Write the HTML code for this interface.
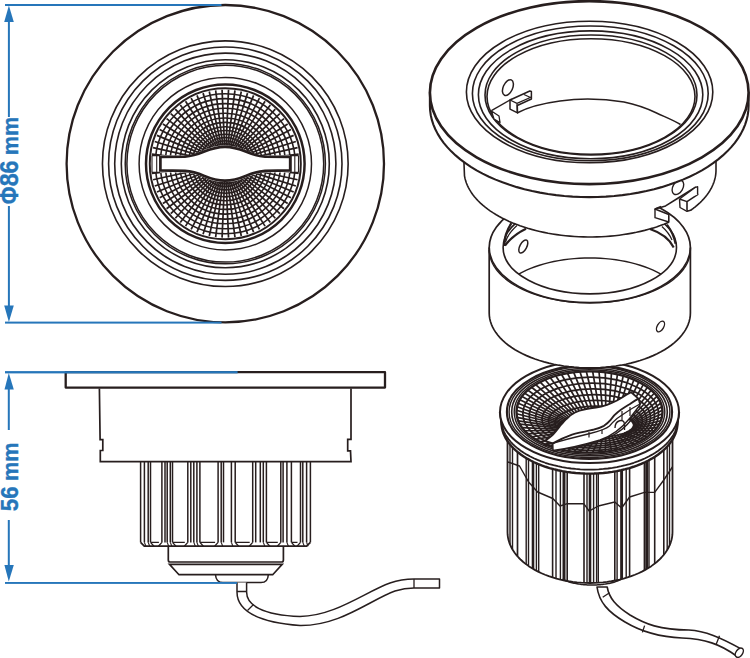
<!DOCTYPE html>
<html><head><meta charset="utf-8"><style>html,body{margin:0;padding:0;background:#fff;overflow:hidden;}svg{display:block}</style></head>
<body><svg width="750" height="658" viewBox="0 0 750 658">
<circle cx="225.3" cy="163.7" r="158.7" fill="none" stroke="#271e1e" stroke-width="2.3"/>
<circle cx="225.3" cy="163.7" r="122.85" fill="none" stroke="#271e1e" stroke-width="1.6"/>
<circle cx="225.3" cy="163.7" r="116.7" fill="none" stroke="#271e1e" stroke-width="1.6"/>
<circle cx="225.3" cy="163.7" r="110.6" fill="none" stroke="#271e1e" stroke-width="1.6"/>
<circle cx="225.3" cy="163.7" r="104.0" fill="none" stroke="#271e1e" stroke-width="1.6"/>
<circle cx="225.3" cy="163.7" r="100.1" fill="none" stroke="#271e1e" stroke-width="1.5"/>
<circle cx="225.3" cy="163.7" r="98.4" fill="none" stroke="#271e1e" stroke-width="1.5"/>
<circle cx="225.3" cy="163.7" r="86.2" fill="none" stroke="#271e1e" stroke-width="1.5"/>
<circle cx="225.3" cy="163.7" r="79.3" fill="none" stroke="#271e1e" stroke-width="2.5"/>
<defs><mask id="gm"><rect x="0" y="0" width="750" height="658" fill="black"/><circle cx="225.3" cy="163.7" r="75.5" fill="white"/><path d="M150 155.5 L185 155.5 C203 154 207 145.5 225 145.5 C243 145.5 247 154 265 155.5 L300 155.5 L300 172.5 L265 172.5 C247 174 243 182 225 182 C207 182 203 174 185 172.5 L150 172.5 Z" fill="black"/></mask></defs>
<g mask="url(#gm)"><circle cx="225.3" cy="163.7" r="70" fill="none" stroke="#271e1e" stroke-width="1.6"/><circle cx="225.3" cy="163.7" r="65.1" fill="none" stroke="#271e1e" stroke-width="1.6"/><circle cx="225.3" cy="163.7" r="60.1" fill="none" stroke="#271e1e" stroke-width="1.6"/><circle cx="225.3" cy="163.7" r="55.4" fill="none" stroke="#271e1e" stroke-width="1.6"/><circle cx="225.3" cy="163.7" r="50.4" fill="none" stroke="#271e1e" stroke-width="1.6"/><circle cx="225.3" cy="163.7" r="45.7" fill="none" stroke="#271e1e" stroke-width="1.6"/><circle cx="225.3" cy="163.7" r="41.3" fill="none" stroke="#271e1e" stroke-width="1.6"/><circle cx="225.3" cy="163.7" r="37" fill="none" stroke="#271e1e" stroke-width="1.6"/><circle cx="225.3" cy="163.7" r="33.2" fill="none" stroke="#271e1e" stroke-width="1.6"/><circle cx="225.3" cy="163.7" r="29.5" fill="none" stroke="#271e1e" stroke-width="1.6"/><circle cx="225.3" cy="163.7" r="26.2" fill="none" stroke="#271e1e" stroke-width="1.6"/><circle cx="225.3" cy="163.7" r="22.9" fill="none" stroke="#271e1e" stroke-width="1.6"/><circle cx="225.3" cy="163.7" r="20.0" fill="none" stroke="#271e1e" stroke-width="1.6"/><circle cx="225.3" cy="163.7" r="17.3" fill="none" stroke="#271e1e" stroke-width="1.6"/><line x1="237.29" y1="164.22" x2="299.23" y2="166.93" stroke="#271e1e" stroke-width="1.7"/><line x1="237.20" y1="165.27" x2="298.67" y2="173.36" stroke="#271e1e" stroke-width="1.7"/><line x1="237.02" y1="166.30" x2="297.55" y2="179.72" stroke="#271e1e" stroke-width="1.7"/><line x1="236.74" y1="167.31" x2="295.88" y2="185.95" stroke="#271e1e" stroke-width="1.7"/><line x1="236.39" y1="168.29" x2="293.67" y2="192.02" stroke="#271e1e" stroke-width="1.7"/><line x1="235.94" y1="169.24" x2="290.94" y2="197.87" stroke="#271e1e" stroke-width="1.7"/><line x1="235.42" y1="170.15" x2="287.71" y2="203.46" stroke="#271e1e" stroke-width="1.7"/><line x1="234.82" y1="171.01" x2="284.01" y2="208.75" stroke="#271e1e" stroke-width="1.7"/><line x1="234.15" y1="171.81" x2="279.86" y2="213.69" stroke="#271e1e" stroke-width="1.7"/><line x1="233.41" y1="172.55" x2="275.29" y2="218.26" stroke="#271e1e" stroke-width="1.7"/><line x1="232.61" y1="173.22" x2="270.35" y2="222.41" stroke="#271e1e" stroke-width="1.7"/><line x1="231.75" y1="173.82" x2="265.06" y2="226.11" stroke="#271e1e" stroke-width="1.7"/><line x1="230.84" y1="174.34" x2="259.47" y2="229.34" stroke="#271e1e" stroke-width="1.7"/><line x1="229.89" y1="174.79" x2="253.62" y2="232.07" stroke="#271e1e" stroke-width="1.7"/><line x1="228.91" y1="175.14" x2="247.55" y2="234.28" stroke="#271e1e" stroke-width="1.7"/><line x1="227.90" y1="175.42" x2="241.32" y2="235.95" stroke="#271e1e" stroke-width="1.7"/><line x1="226.87" y1="175.60" x2="234.96" y2="237.07" stroke="#271e1e" stroke-width="1.7"/><line x1="225.82" y1="175.69" x2="228.53" y2="237.63" stroke="#271e1e" stroke-width="1.7"/><line x1="224.78" y1="175.69" x2="222.07" y2="237.63" stroke="#271e1e" stroke-width="1.7"/><line x1="223.73" y1="175.60" x2="215.64" y2="237.07" stroke="#271e1e" stroke-width="1.7"/><line x1="222.70" y1="175.42" x2="209.28" y2="235.95" stroke="#271e1e" stroke-width="1.7"/><line x1="221.69" y1="175.14" x2="203.05" y2="234.28" stroke="#271e1e" stroke-width="1.7"/><line x1="220.71" y1="174.79" x2="196.98" y2="232.07" stroke="#271e1e" stroke-width="1.7"/><line x1="219.76" y1="174.34" x2="191.13" y2="229.34" stroke="#271e1e" stroke-width="1.7"/><line x1="218.85" y1="173.82" x2="185.54" y2="226.11" stroke="#271e1e" stroke-width="1.7"/><line x1="217.99" y1="173.22" x2="180.25" y2="222.41" stroke="#271e1e" stroke-width="1.7"/><line x1="217.19" y1="172.55" x2="175.31" y2="218.26" stroke="#271e1e" stroke-width="1.7"/><line x1="216.45" y1="171.81" x2="170.74" y2="213.69" stroke="#271e1e" stroke-width="1.7"/><line x1="215.78" y1="171.01" x2="166.59" y2="208.75" stroke="#271e1e" stroke-width="1.7"/><line x1="215.18" y1="170.15" x2="162.89" y2="203.46" stroke="#271e1e" stroke-width="1.7"/><line x1="214.66" y1="169.24" x2="159.66" y2="197.87" stroke="#271e1e" stroke-width="1.7"/><line x1="214.21" y1="168.29" x2="156.93" y2="192.02" stroke="#271e1e" stroke-width="1.7"/><line x1="213.86" y1="167.31" x2="154.72" y2="185.95" stroke="#271e1e" stroke-width="1.7"/><line x1="213.58" y1="166.30" x2="153.05" y2="179.72" stroke="#271e1e" stroke-width="1.7"/><line x1="213.40" y1="165.27" x2="151.93" y2="173.36" stroke="#271e1e" stroke-width="1.7"/><line x1="213.31" y1="164.22" x2="151.37" y2="166.93" stroke="#271e1e" stroke-width="1.7"/><line x1="213.31" y1="163.18" x2="151.37" y2="160.47" stroke="#271e1e" stroke-width="1.7"/><line x1="213.40" y1="162.13" x2="151.93" y2="154.04" stroke="#271e1e" stroke-width="1.7"/><line x1="213.58" y1="161.10" x2="153.05" y2="147.68" stroke="#271e1e" stroke-width="1.7"/><line x1="213.86" y1="160.09" x2="154.72" y2="141.45" stroke="#271e1e" stroke-width="1.7"/><line x1="214.21" y1="159.11" x2="156.93" y2="135.38" stroke="#271e1e" stroke-width="1.7"/><line x1="214.66" y1="158.16" x2="159.66" y2="129.53" stroke="#271e1e" stroke-width="1.7"/><line x1="215.18" y1="157.25" x2="162.89" y2="123.94" stroke="#271e1e" stroke-width="1.7"/><line x1="215.78" y1="156.39" x2="166.59" y2="118.65" stroke="#271e1e" stroke-width="1.7"/><line x1="216.45" y1="155.59" x2="170.74" y2="113.71" stroke="#271e1e" stroke-width="1.7"/><line x1="217.19" y1="154.85" x2="175.31" y2="109.14" stroke="#271e1e" stroke-width="1.7"/><line x1="217.99" y1="154.18" x2="180.25" y2="104.99" stroke="#271e1e" stroke-width="1.7"/><line x1="218.85" y1="153.58" x2="185.54" y2="101.29" stroke="#271e1e" stroke-width="1.7"/><line x1="219.76" y1="153.06" x2="191.13" y2="98.06" stroke="#271e1e" stroke-width="1.7"/><line x1="220.71" y1="152.61" x2="196.98" y2="95.33" stroke="#271e1e" stroke-width="1.7"/><line x1="221.69" y1="152.26" x2="203.05" y2="93.12" stroke="#271e1e" stroke-width="1.7"/><line x1="222.70" y1="151.98" x2="209.28" y2="91.45" stroke="#271e1e" stroke-width="1.7"/><line x1="223.73" y1="151.80" x2="215.64" y2="90.33" stroke="#271e1e" stroke-width="1.7"/><line x1="224.78" y1="151.71" x2="222.07" y2="89.77" stroke="#271e1e" stroke-width="1.7"/><line x1="225.82" y1="151.71" x2="228.53" y2="89.77" stroke="#271e1e" stroke-width="1.7"/><line x1="226.87" y1="151.80" x2="234.96" y2="90.33" stroke="#271e1e" stroke-width="1.7"/><line x1="227.90" y1="151.98" x2="241.32" y2="91.45" stroke="#271e1e" stroke-width="1.7"/><line x1="228.91" y1="152.26" x2="247.55" y2="93.12" stroke="#271e1e" stroke-width="1.7"/><line x1="229.89" y1="152.61" x2="253.62" y2="95.33" stroke="#271e1e" stroke-width="1.7"/><line x1="230.84" y1="153.06" x2="259.47" y2="98.06" stroke="#271e1e" stroke-width="1.7"/><line x1="231.75" y1="153.58" x2="265.06" y2="101.29" stroke="#271e1e" stroke-width="1.7"/><line x1="232.61" y1="154.18" x2="270.35" y2="104.99" stroke="#271e1e" stroke-width="1.7"/><line x1="233.41" y1="154.85" x2="275.29" y2="109.14" stroke="#271e1e" stroke-width="1.7"/><line x1="234.15" y1="155.59" x2="279.86" y2="113.71" stroke="#271e1e" stroke-width="1.7"/><line x1="234.82" y1="156.39" x2="284.01" y2="118.65" stroke="#271e1e" stroke-width="1.7"/><line x1="235.42" y1="157.25" x2="287.71" y2="123.94" stroke="#271e1e" stroke-width="1.7"/><line x1="235.94" y1="158.16" x2="290.94" y2="129.53" stroke="#271e1e" stroke-width="1.7"/><line x1="236.39" y1="159.11" x2="293.67" y2="135.38" stroke="#271e1e" stroke-width="1.7"/><line x1="236.74" y1="160.09" x2="295.88" y2="141.45" stroke="#271e1e" stroke-width="1.7"/><line x1="237.02" y1="161.10" x2="297.55" y2="147.68" stroke="#271e1e" stroke-width="1.7"/><line x1="237.20" y1="162.13" x2="298.67" y2="154.04" stroke="#271e1e" stroke-width="1.7"/><line x1="237.29" y1="163.18" x2="299.23" y2="160.47" stroke="#271e1e" stroke-width="1.7"/></g>
<circle cx="225.3" cy="163.7" r="75.5" fill="none" stroke="#271e1e" stroke-width="2"/>
<path d="M160.4 157 L185 156.6 C203 155.5 207 146.8 225 146.8 C243 146.8 247 155.5 265 156.6 L290.2 157 L290.2 170.4 L265 170.9 C247 172 243 180.6 225 180.6 C207 180.6 203 172 185 170.9 L160.4 170.4 Z" fill="white" stroke="#271e1e" stroke-width="2.7"/>
<path d="M152 155.5 L160 155.5 M152 172.5 L160 172.5 M290 155.5 L298.5 155.5 M290 172.5 L298.5 172.5" stroke="#271e1e" stroke-width="1.6"/>
<line x1="152.0" y1="155.5" x2="152.0" y2="172.5" stroke="#271e1e" stroke-width="1.1"/>
<line x1="156.7" y1="155.5" x2="156.7" y2="172.5" stroke="#271e1e" stroke-width="1.1"/>
<line x1="291.0" y1="155.5" x2="291.0" y2="172.5" stroke="#271e1e" stroke-width="1.1"/>
<line x1="294.8" y1="155.5" x2="294.8" y2="172.5" stroke="#271e1e" stroke-width="1.1"/>
<line x1="298.5" y1="155.5" x2="298.5" y2="172.5" stroke="#271e1e" stroke-width="1.1"/>
<rect x="65.7" y="372.2" width="319.3" height="15.4" fill="none" stroke="#271e1e" stroke-width="2.3" stroke-linejoin="round"/>
<path d="M99.4 388.5 L100.1 439.6 L102.8 439.6 L102.8 450.5 L100.3 450.5 L100.3 461.6 L351 461.6 L350.5 450.8 L347.7 450.8 L347.7 439.4 L351 439.4 L351 388.5" fill="none" stroke="#271e1e" stroke-width="1.7"/>
<line x1="140.6" y1="461.6" x2="140.6" y2="542.4" stroke="#271e1e" stroke-width="1.5"/>
<line x1="144.4" y1="461.6" x2="144.4" y2="542.4" stroke="#271e1e" stroke-width="1.5"/>
<line x1="148.2" y1="461.6" x2="148.2" y2="542.4" stroke="#271e1e" stroke-width="1.5"/>
<line x1="150.5" y1="461.6" x2="150.5" y2="542.4" stroke="#271e1e" stroke-width="1.5"/>
<line x1="161.9" y1="461.6" x2="161.9" y2="542.4" stroke="#271e1e" stroke-width="1.5"/>
<line x1="165" y1="461.6" x2="165" y2="542.4" stroke="#271e1e" stroke-width="1.5"/>
<line x1="167.2" y1="461.6" x2="167.2" y2="542.4" stroke="#271e1e" stroke-width="1.5"/>
<line x1="170.3" y1="461.6" x2="170.3" y2="542.4" stroke="#271e1e" stroke-width="1.5"/>
<line x1="172.5" y1="461.6" x2="172.5" y2="542.4" stroke="#271e1e" stroke-width="1.5"/>
<line x1="187.8" y1="461.6" x2="187.8" y2="542.4" stroke="#271e1e" stroke-width="1.5"/>
<line x1="190.8" y1="461.6" x2="190.8" y2="542.4" stroke="#271e1e" stroke-width="1.5"/>
<line x1="193.8" y1="461.6" x2="193.8" y2="542.4" stroke="#271e1e" stroke-width="1.5"/>
<line x1="196.9" y1="461.6" x2="196.9" y2="542.4" stroke="#271e1e" stroke-width="1.5"/>
<line x1="199.9" y1="461.6" x2="199.9" y2="542.4" stroke="#271e1e" stroke-width="1.5"/>
<line x1="218.1" y1="461.6" x2="218.1" y2="542.4" stroke="#271e1e" stroke-width="1.5"/>
<line x1="221.2" y1="461.6" x2="221.2" y2="542.4" stroke="#271e1e" stroke-width="1.5"/>
<line x1="223.5" y1="461.6" x2="223.5" y2="542.4" stroke="#271e1e" stroke-width="1.5"/>
<line x1="231.4" y1="461.6" x2="231.4" y2="542.4" stroke="#271e1e" stroke-width="1.5"/>
<line x1="235.2" y1="461.6" x2="235.2" y2="542.4" stroke="#271e1e" stroke-width="1.5"/>
<line x1="252.7" y1="461.6" x2="252.7" y2="542.4" stroke="#271e1e" stroke-width="1.5"/>
<line x1="255.7" y1="461.6" x2="255.7" y2="542.4" stroke="#271e1e" stroke-width="1.5"/>
<line x1="260.3" y1="461.6" x2="260.3" y2="542.4" stroke="#271e1e" stroke-width="1.5"/>
<line x1="263.3" y1="461.6" x2="263.3" y2="542.4" stroke="#271e1e" stroke-width="1.5"/>
<line x1="266.4" y1="461.6" x2="266.4" y2="542.4" stroke="#271e1e" stroke-width="1.5"/>
<line x1="280.8" y1="461.6" x2="280.8" y2="542.4" stroke="#271e1e" stroke-width="1.5"/>
<line x1="283.1" y1="461.6" x2="283.1" y2="542.4" stroke="#271e1e" stroke-width="1.5"/>
<line x1="286.9" y1="461.6" x2="286.9" y2="542.4" stroke="#271e1e" stroke-width="1.5"/>
<line x1="291.4" y1="461.6" x2="291.4" y2="542.4" stroke="#271e1e" stroke-width="1.5"/>
<line x1="300.5" y1="461.6" x2="300.5" y2="542.4" stroke="#271e1e" stroke-width="1.5"/>
<line x1="302.8" y1="461.6" x2="302.8" y2="542.4" stroke="#271e1e" stroke-width="1.5"/>
<line x1="306.6" y1="461.6" x2="306.6" y2="542.4" stroke="#271e1e" stroke-width="1.5"/>
<line x1="310.4" y1="461.6" x2="310.4" y2="542.4" stroke="#271e1e" stroke-width="1.5"/>
<path d="M140.6 542.4 L144.3 546.2 L306.6 546.2 L310.4 542.4" fill="none" stroke="#271e1e" stroke-width="1.7"/>
<path d="M150.5 542.4 L153.5 542.4 M150.5 542.4 L154.0 546.2 M161.9 542.4 L158.4 546.2 M153.5 542.4 L158.9 542.4" fill="none" stroke="#271e1e" stroke-width="1.3"/>
<path d="M172.5 542.4 L175.5 542.4 M172.5 542.4 L176.0 546.2 M187.8 542.4 L184.3 546.2 M175.5 542.4 L184.8 542.4" fill="none" stroke="#271e1e" stroke-width="1.3"/>
<path d="M199.9 542.4 L202.9 542.4 M199.9 542.4 L203.4 546.2 M218.1 542.4 L214.6 546.2 M202.9 542.4 L215.1 542.4" fill="none" stroke="#271e1e" stroke-width="1.3"/>
<path d="M235.2 542.4 L238.2 542.4 M235.2 542.4 L238.7 546.2 M252.7 542.4 L249.2 546.2 M238.2 542.4 L249.7 542.4" fill="none" stroke="#271e1e" stroke-width="1.3"/>
<path d="M266.4 542.4 L269.4 542.4 M266.4 542.4 L269.9 546.2 M280.8 542.4 L277.3 546.2 M269.4 542.4 L277.8 542.4" fill="none" stroke="#271e1e" stroke-width="1.3"/>
<path d="M291.4 542.4 L294.4 542.4 M291.4 542.4 L294.9 546.2 M300.5 542.4 L297.0 546.2 M294.4 542.4 L297.5 542.4" fill="none" stroke="#271e1e" stroke-width="1.3"/>
<line x1="144.4" y1="542.4" x2="145.9" y2="546.2" stroke="#271e1e" stroke-width="1.1"/>
<line x1="148.2" y1="542.4" x2="149.7" y2="546.2" stroke="#271e1e" stroke-width="1.1"/>
<line x1="167.2" y1="542.4" x2="168.7" y2="546.2" stroke="#271e1e" stroke-width="1.1"/>
<line x1="170.3" y1="542.4" x2="171.8" y2="546.2" stroke="#271e1e" stroke-width="1.1"/>
<line x1="193.8" y1="542.4" x2="195.3" y2="546.2" stroke="#271e1e" stroke-width="1.1"/>
<line x1="196.9" y1="542.4" x2="198.4" y2="546.2" stroke="#271e1e" stroke-width="1.1"/>
<line x1="221.2" y1="542.4" x2="222.7" y2="546.2" stroke="#271e1e" stroke-width="1.1"/>
<line x1="231.4" y1="542.4" x2="232.9" y2="546.2" stroke="#271e1e" stroke-width="1.1"/>
<line x1="263.3" y1="542.4" x2="264.8" y2="546.2" stroke="#271e1e" stroke-width="1.1"/>
<line x1="286.9" y1="542.4" x2="288.4" y2="546.2" stroke="#271e1e" stroke-width="1.1"/>
<line x1="302.8" y1="542.4" x2="304.3" y2="546.2" stroke="#271e1e" stroke-width="1.1"/>
<line x1="306.6" y1="542.4" x2="308.1" y2="546.2" stroke="#271e1e" stroke-width="1.1"/>
<path d="M168.3 546.2 L168.3 560 Q168.3 562 170 562 L281.7 562 Q283.4 562 283.4 560 L283.4 546.2" fill="none" stroke="#271e1e" stroke-width="1.7"/>
<path d="M169.5 564.3 L282.2 564.3 L272.7 574.7 L179 574.7 Z" fill="none" stroke="#271e1e" stroke-width="1.7"/>
<path d="M215.5 574.7 Q216 582.5 223 582.5 L261 582.5 Q268 582.5 268.3 574.7" fill="none" stroke="#271e1e" stroke-width="1.5"/>
<path d="M237 582.6 L237 592 C237 610 255 622 300 625.5 C340 626 370 600 395 591 C403 588.5 408 588 414 588 L439.5 588 L439.5 579 L414 579 C407 579 400 579.5 390 583 C365 592 335 616 300 616.5 C262 615 246.6 605 246.6 592 L246.6 582.6" fill="white" stroke="#271e1e" stroke-width="1.5" stroke-linejoin="round"/>
<path d="M237 591.5 L246.6 591.5 M247.5 610.5 L253.5 604.5 M414 579 L414 588" stroke="#271e1e" stroke-width="1.3"/>
<path d="M597 587 C599 602 608 612 625 622 C640 631 660 637 682 638 C705 639 720 644 736.5 656 L742 649.4 C720 637 705 631 688.8 630 C660 630 645 624 630 615 C616 606 609 598 607.2 587 Z" fill="white" stroke="#271e1e" stroke-width="1.6" stroke-linejoin="round" />
<path d="M602.7 597.2 L609.5 592.7 M644.6 625.6 L642.4 632.4 M719.5 635.8 L716 644.8" fill="none" stroke="#271e1e" stroke-width="1.3" stroke-linejoin="round" />
<ellipse cx="739.3" cy="652.7" rx="3.3" ry="5.2" fill="white" stroke="#271e1e" stroke-width="1.5" transform="rotate(35 739.3 652.7)"/>
<path d="M507.5 420 L507.5 532 L507.50 532.00 L507.61 534.67 L507.95 537.33 L508.52 539.98 L509.30 542.60 L510.31 545.20 L511.54 547.76 L512.98 550.28 L514.63 552.74 L516.49 555.15 L518.55 557.50 L520.81 559.78 L523.26 561.98 L525.89 564.10 L528.69 566.13 L531.66 568.06 L534.80 569.90 L538.08 571.63 L541.51 573.26 L545.07 574.77 L548.75 576.17 L552.55 577.44 L556.44 578.59 L560.43 579.61 L564.51 580.50 L568.65 581.26 L572.85 581.89 L577.09 582.37 L581.38 582.72 L585.68 582.93 L590.00 583.00 L594.32 582.93 L598.62 582.72 L602.91 582.37 L607.15 581.89 L611.35 581.26 L615.49 580.50 L619.57 579.61 L623.56 578.59 L627.45 577.44 L631.25 576.17 L634.93 574.77 L638.49 573.26 L641.92 571.63 L645.20 569.90 L648.34 568.06 L651.31 566.13 L654.11 564.10 L656.74 561.98 L659.19 559.78 L661.45 557.50 L663.51 555.15 L665.37 552.74 L667.02 550.28 L668.46 547.76 L669.69 545.20 L670.70 542.60 L671.48 539.98 L672.05 537.33 L672.39 534.67 L672.50 532.00 L672.5 420" fill="white" stroke="#271e1e" stroke-width="1.8" stroke-linejoin="round" />
<path d="M562.56 579.00 L563.17 579.36 L563.81 579.71 L564.49 580.05 L565.21 580.39 L565.95 580.71 L566.73 581.03 L567.54 581.34 L568.38 581.63 L569.25 581.92 L570.15 582.19 L571.07 582.46 L572.02 582.71 L572.99 582.95 L573.98 583.18 L575.00 583.39 L576.04 583.60 L577.10 583.79 L578.17 583.96 L579.26 584.13 L580.37 584.28 L581.49 584.41 L582.63 584.54 L583.77 584.64 L584.93 584.74 L586.10 584.82 L587.27 584.88 L588.45 584.93 L589.63 584.97 L590.81 584.99 L592.00 585.00 L593.19 584.99 L594.37 584.97 L595.55 584.93 L596.73 584.88 L597.90 584.82 L599.07 584.74 L600.23 584.64 L601.37 584.54 L602.51 584.41 L603.63 584.28 L604.74 584.13 L605.83 583.96 L606.90 583.79 L607.96 583.60 L609.00 583.39 L610.02 583.18 L611.01 582.95 L611.98 582.71 L612.93 582.46 L613.85 582.19 L614.75 581.92 L615.62 581.63 L616.46 581.34 L617.27 581.03 L618.05 580.71 L618.79 580.39 L619.51 580.05 L620.19 579.71 L620.83 579.36 L621.44 579.00" fill="none" stroke="#271e1e" stroke-width="1.5" stroke-linejoin="round" />
<line x1="510" y1="444.5" x2="510" y2="544.5" stroke="#271e1e" stroke-width="1.4"/>
<line x1="512.5" y1="447.3" x2="512.5" y2="549.5" stroke="#271e1e" stroke-width="1.4"/>
<line x1="517.5" y1="451.9" x2="517.5" y2="556.3" stroke="#271e1e" stroke-width="1.7"/>
<line x1="526.2" y1="458.0" x2="526.2" y2="564.3" stroke="#271e1e" stroke-width="1.4"/>
<line x1="528.5" y1="459.4" x2="528.5" y2="566.0" stroke="#271e1e" stroke-width="1.4"/>
<line x1="533" y1="461.7" x2="533" y2="568.9" stroke="#271e1e" stroke-width="2.6"/>
<line x1="536.4" y1="463.3" x2="536.4" y2="570.8" stroke="#271e1e" stroke-width="1.4"/>
<line x1="538.7" y1="464.2" x2="538.7" y2="571.9" stroke="#271e1e" stroke-width="1.4"/>
<line x1="552.6" y1="468.9" x2="552.6" y2="577.5" stroke="#271e1e" stroke-width="1.6"/>
<line x1="556" y1="469.8" x2="556" y2="578.5" stroke="#271e1e" stroke-width="1.4"/>
<line x1="560.4" y1="470.7" x2="560.4" y2="579.6" stroke="#271e1e" stroke-width="1.4"/>
<line x1="564" y1="471.4" x2="564" y2="580.4" stroke="#271e1e" stroke-width="3.0"/>
<line x1="567.2" y1="471.9" x2="567.2" y2="581.0" stroke="#271e1e" stroke-width="1.6"/>
<line x1="584" y1="473.5" x2="584" y2="582.9" stroke="#271e1e" stroke-width="1.6"/>
<line x1="587" y1="473.6" x2="587" y2="583.0" stroke="#271e1e" stroke-width="1.4"/>
<line x1="590" y1="473.6" x2="590" y2="583.0" stroke="#271e1e" stroke-width="2.6"/>
<line x1="593.6" y1="473.5" x2="593.6" y2="583.0" stroke="#271e1e" stroke-width="1.4"/>
<line x1="596.6" y1="473.4" x2="596.6" y2="582.8" stroke="#271e1e" stroke-width="1.4"/>
<line x1="598.3" y1="473.3" x2="598.3" y2="582.7" stroke="#271e1e" stroke-width="1.4"/>
<line x1="614.8" y1="471.4" x2="614.8" y2="580.6" stroke="#271e1e" stroke-width="1.6"/>
<line x1="617.1" y1="471.0" x2="617.1" y2="580.2" stroke="#271e1e" stroke-width="1.4"/>
<line x1="621.6" y1="470.1" x2="621.6" y2="579.1" stroke="#271e1e" stroke-width="2.9"/>
<line x1="626.2" y1="469.0" x2="626.2" y2="577.8" stroke="#271e1e" stroke-width="1.4"/>
<line x1="629.6" y1="468.0" x2="629.6" y2="576.7" stroke="#271e1e" stroke-width="1.6"/>
<line x1="644.4" y1="462.5" x2="644.4" y2="570.3" stroke="#271e1e" stroke-width="1.6"/>
<line x1="646.7" y1="461.4" x2="646.7" y2="569.0" stroke="#271e1e" stroke-width="2.9"/>
<line x1="649" y1="460.2" x2="649" y2="567.6" stroke="#271e1e" stroke-width="1.4"/>
<line x1="654.7" y1="456.9" x2="654.7" y2="563.6" stroke="#271e1e" stroke-width="1.6"/>
<line x1="663.8" y1="449.9" x2="663.8" y2="554.8" stroke="#271e1e" stroke-width="1.6"/>
<line x1="667.2" y1="446.5" x2="667.2" y2="550.0" stroke="#271e1e" stroke-width="1.4"/>
<line x1="669.5" y1="443.8" x2="669.5" y2="545.6" stroke="#271e1e" stroke-width="1.4"/>
<path d="M507.9 462 L519.5 466 L528.6 482 L537.6 492 L552.8 498.5 L560 506 L567.3 503.7 L583.7 503.7 L589.2 511 L598.3 506 L614.8 502 L621.6 508 L629.6 497 L644.4 492.4 L654.7 492.4 L663.8 480 L672.4 467" fill="none" stroke="#271e1e" stroke-width="1.4" stroke-linejoin="round" />
<path d="M500 412 L501.5 422.6 L501.50 422.60 L501.62 425.27 L501.98 427.93 L502.58 430.58 L503.42 433.20 L504.50 435.80 L505.81 438.36 L507.34 440.88 L509.11 443.34 L511.09 445.75 L513.29 448.10 L515.70 450.38 L518.31 452.58 L521.11 454.70 L524.10 456.73 L527.27 458.66 L530.62 460.50 L534.12 462.23 L537.77 463.86 L541.57 465.37 L545.50 466.77 L549.55 468.04 L553.71 469.19 L557.96 470.21 L562.31 471.10 L566.72 471.86 L571.20 472.49 L575.73 472.97 L580.30 473.32 L584.89 473.53 L589.50 473.60 L594.11 473.53 L598.70 473.32 L603.27 472.97 L607.80 472.49 L612.28 471.86 L616.69 471.10 L621.04 470.21 L625.29 469.19 L629.45 468.04 L633.50 466.77 L637.43 465.37 L641.23 463.86 L644.88 462.23 L648.38 460.50 L651.73 458.66 L654.90 456.73 L657.89 454.70 L660.69 452.58 L663.30 450.38 L665.71 448.10 L667.91 445.75 L669.89 443.34 L671.66 440.88 L673.19 438.36 L674.50 435.80 L675.58 433.20 L676.42 430.58 L677.02 427.93 L677.38 425.27 L677.50 422.60 L679 412" fill="white" stroke="#271e1e" stroke-width="2.4" stroke-linejoin="round" />
<path d="M501.00 418.60 L501.12 421.27 L501.48 423.93 L502.09 426.58 L502.93 429.20 L504.02 431.80 L505.33 434.36 L506.88 436.88 L508.65 439.34 L510.65 441.75 L512.86 444.10 L515.28 446.38 L517.90 448.58 L520.72 450.70 L523.73 452.73 L526.92 454.66 L530.28 456.50 L533.81 458.23 L537.48 459.86 L541.30 461.37 L545.25 462.77 L549.32 464.04 L553.50 465.19 L557.78 466.21 L562.15 467.10 L566.59 467.86 L571.10 468.49 L575.66 468.97 L580.25 469.32 L584.87 469.53 L589.50 469.60 L594.13 469.53 L598.75 469.32 L603.34 468.97 L607.90 468.49 L612.41 467.86 L616.85 467.10 L621.22 466.21 L625.50 465.19 L629.68 464.04 L633.75 462.77 L637.70 461.37 L641.52 459.86 L645.19 458.23 L648.72 456.50 L652.08 454.66 L655.27 452.73 L658.28 450.70 L661.10 448.58 L663.72 446.38 L666.14 444.10 L668.35 441.75 L670.35 439.34 L672.12 436.88 L673.67 434.36 L674.98 431.80 L676.07 429.20 L676.91 426.58 L677.52 423.93 L677.88 421.27 L678.00 418.60" fill="none" stroke="#271e1e" stroke-width="1.8" stroke-linejoin="round" />
<ellipse cx="589.5" cy="412" rx="89.5" ry="51" fill="white" stroke="#271e1e" stroke-width="2.0" />
<ellipse cx="589.5" cy="412" rx="82.6" ry="46.9" fill="none" stroke="#271e1e" stroke-width="2.1" />
<ellipse cx="589.5" cy="412" rx="80.4" ry="45.5" fill="none" stroke="#271e1e" stroke-width="1.4" />
<ellipse cx="589.5" cy="412" rx="77.8" ry="43.8" fill="none" stroke="#271e1e" stroke-width="1.6" />
<ellipse cx="589.5" cy="412" rx="75.3" ry="42.2" fill="none" stroke="#271e1e" stroke-width="1.4" />
<defs><clipPath id="lc"><ellipse cx="589.5" cy="412" rx="73" ry="40.6"/></clipPath></defs>
<g clip-path="url(#lc)"><ellipse cx="590.7" cy="413.8" rx="67.8" ry="36.6" fill="none" stroke="#271e1e" stroke-width="1.75" /><ellipse cx="591.9" cy="415.6" rx="62.6" ry="32.6" fill="none" stroke="#271e1e" stroke-width="1.75" /><ellipse cx="593.1" cy="417.4" rx="57.4" ry="28.6" fill="none" stroke="#271e1e" stroke-width="1.75" /><ellipse cx="594.3" cy="419.2" rx="52.2" ry="24.6" fill="none" stroke="#271e1e" stroke-width="1.75" /><ellipse cx="595.5" cy="421.0" rx="47.0" ry="20.6" fill="none" stroke="#271e1e" stroke-width="1.75" /><ellipse cx="596.7" cy="422.8" rx="41.8" ry="16.6" fill="none" stroke="#271e1e" stroke-width="1.75" /><ellipse cx="597.9" cy="424.6" rx="36.6" ry="12.6" fill="none" stroke="#271e1e" stroke-width="1.75" /><line x1="662.43" y1="413.77" x2="632.87" y2="425.80" stroke="#271e1e" stroke-width="1.7"/><line x1="661.88" y1="417.30" x2="632.60" y2="426.76" stroke="#271e1e" stroke-width="1.7"/><line x1="660.77" y1="420.79" x2="632.08" y2="427.70" stroke="#271e1e" stroke-width="1.7"/><line x1="659.12" y1="424.21" x2="631.30" y2="428.63" stroke="#271e1e" stroke-width="1.7"/><line x1="656.94" y1="427.54" x2="630.27" y2="429.53" stroke="#271e1e" stroke-width="1.7"/><line x1="654.25" y1="430.75" x2="629.00" y2="430.40" stroke="#271e1e" stroke-width="1.7"/><line x1="651.07" y1="433.81" x2="627.49" y2="431.23" stroke="#271e1e" stroke-width="1.7"/><line x1="647.41" y1="436.72" x2="625.77" y2="432.02" stroke="#271e1e" stroke-width="1.7"/><line x1="643.32" y1="439.43" x2="623.83" y2="432.75" stroke="#271e1e" stroke-width="1.7"/><line x1="638.82" y1="441.93" x2="621.70" y2="433.43" stroke="#271e1e" stroke-width="1.7"/><line x1="633.94" y1="444.21" x2="619.39" y2="434.05" stroke="#271e1e" stroke-width="1.7"/><line x1="628.72" y1="446.24" x2="616.93" y2="434.60" stroke="#271e1e" stroke-width="1.7"/><line x1="623.21" y1="448.01" x2="614.32" y2="435.08" stroke="#271e1e" stroke-width="1.7"/><line x1="617.44" y1="449.51" x2="611.59" y2="435.48" stroke="#271e1e" stroke-width="1.7"/><line x1="611.45" y1="450.72" x2="608.76" y2="435.81" stroke="#271e1e" stroke-width="1.7"/><line x1="605.30" y1="451.64" x2="605.85" y2="436.06" stroke="#271e1e" stroke-width="1.7"/><line x1="599.03" y1="452.25" x2="602.89" y2="436.23" stroke="#271e1e" stroke-width="1.7"/><line x1="592.68" y1="452.56" x2="599.89" y2="436.31" stroke="#271e1e" stroke-width="1.7"/><line x1="586.32" y1="452.56" x2="596.87" y2="436.31" stroke="#271e1e" stroke-width="1.7"/><line x1="579.97" y1="452.25" x2="593.87" y2="436.23" stroke="#271e1e" stroke-width="1.7"/><line x1="573.70" y1="451.64" x2="590.91" y2="436.06" stroke="#271e1e" stroke-width="1.7"/><line x1="567.55" y1="450.72" x2="588.00" y2="435.81" stroke="#271e1e" stroke-width="1.7"/><line x1="561.56" y1="449.51" x2="585.17" y2="435.48" stroke="#271e1e" stroke-width="1.7"/><line x1="555.79" y1="448.01" x2="582.44" y2="435.08" stroke="#271e1e" stroke-width="1.7"/><line x1="550.28" y1="446.24" x2="579.83" y2="434.60" stroke="#271e1e" stroke-width="1.7"/><line x1="545.06" y1="444.21" x2="577.37" y2="434.05" stroke="#271e1e" stroke-width="1.7"/><line x1="540.18" y1="441.93" x2="575.06" y2="433.43" stroke="#271e1e" stroke-width="1.7"/><line x1="535.68" y1="439.43" x2="572.93" y2="432.75" stroke="#271e1e" stroke-width="1.7"/><line x1="531.59" y1="436.72" x2="570.99" y2="432.02" stroke="#271e1e" stroke-width="1.7"/><line x1="527.93" y1="433.81" x2="569.27" y2="431.23" stroke="#271e1e" stroke-width="1.7"/><line x1="524.75" y1="430.75" x2="567.76" y2="430.40" stroke="#271e1e" stroke-width="1.7"/><line x1="522.06" y1="427.54" x2="566.49" y2="429.53" stroke="#271e1e" stroke-width="1.7"/><line x1="519.88" y1="424.21" x2="565.46" y2="428.63" stroke="#271e1e" stroke-width="1.7"/><line x1="518.23" y1="420.79" x2="564.68" y2="427.70" stroke="#271e1e" stroke-width="1.7"/><line x1="517.12" y1="417.30" x2="564.16" y2="426.76" stroke="#271e1e" stroke-width="1.7"/><line x1="516.57" y1="413.77" x2="563.89" y2="425.80" stroke="#271e1e" stroke-width="1.7"/><line x1="516.57" y1="410.23" x2="563.89" y2="424.84" stroke="#271e1e" stroke-width="1.7"/><line x1="517.12" y1="406.70" x2="564.16" y2="423.88" stroke="#271e1e" stroke-width="1.7"/><line x1="518.23" y1="403.21" x2="564.68" y2="422.94" stroke="#271e1e" stroke-width="1.7"/><line x1="519.88" y1="399.79" x2="565.46" y2="422.01" stroke="#271e1e" stroke-width="1.7"/><line x1="522.06" y1="396.46" x2="566.49" y2="421.11" stroke="#271e1e" stroke-width="1.7"/><line x1="524.75" y1="393.25" x2="567.76" y2="420.24" stroke="#271e1e" stroke-width="1.7"/><line x1="527.93" y1="390.19" x2="569.27" y2="419.41" stroke="#271e1e" stroke-width="1.7"/><line x1="531.59" y1="387.28" x2="570.99" y2="418.62" stroke="#271e1e" stroke-width="1.7"/><line x1="535.68" y1="384.57" x2="572.93" y2="417.89" stroke="#271e1e" stroke-width="1.7"/><line x1="540.18" y1="382.07" x2="575.06" y2="417.21" stroke="#271e1e" stroke-width="1.7"/><line x1="545.06" y1="379.79" x2="577.37" y2="416.59" stroke="#271e1e" stroke-width="1.7"/><line x1="550.28" y1="377.76" x2="579.83" y2="416.04" stroke="#271e1e" stroke-width="1.7"/><line x1="555.79" y1="375.99" x2="582.44" y2="415.56" stroke="#271e1e" stroke-width="1.7"/><line x1="561.56" y1="374.49" x2="585.17" y2="415.16" stroke="#271e1e" stroke-width="1.7"/><line x1="567.55" y1="373.28" x2="588.00" y2="414.83" stroke="#271e1e" stroke-width="1.7"/><line x1="573.70" y1="372.36" x2="590.91" y2="414.58" stroke="#271e1e" stroke-width="1.7"/><line x1="579.97" y1="371.75" x2="593.87" y2="414.41" stroke="#271e1e" stroke-width="1.7"/><line x1="586.32" y1="371.44" x2="596.87" y2="414.33" stroke="#271e1e" stroke-width="1.7"/><line x1="592.68" y1="371.44" x2="599.89" y2="414.33" stroke="#271e1e" stroke-width="1.7"/><line x1="599.03" y1="371.75" x2="602.89" y2="414.41" stroke="#271e1e" stroke-width="1.7"/><line x1="605.30" y1="372.36" x2="605.85" y2="414.58" stroke="#271e1e" stroke-width="1.7"/><line x1="611.45" y1="373.28" x2="608.76" y2="414.83" stroke="#271e1e" stroke-width="1.7"/><line x1="617.44" y1="374.49" x2="611.59" y2="415.16" stroke="#271e1e" stroke-width="1.7"/><line x1="623.21" y1="375.99" x2="614.32" y2="415.56" stroke="#271e1e" stroke-width="1.7"/><line x1="628.72" y1="377.76" x2="616.93" y2="416.04" stroke="#271e1e" stroke-width="1.7"/><line x1="633.94" y1="379.79" x2="619.39" y2="416.59" stroke="#271e1e" stroke-width="1.7"/><line x1="638.82" y1="382.07" x2="621.70" y2="417.21" stroke="#271e1e" stroke-width="1.7"/><line x1="643.32" y1="384.57" x2="623.83" y2="417.89" stroke="#271e1e" stroke-width="1.7"/><line x1="647.41" y1="387.28" x2="625.77" y2="418.62" stroke="#271e1e" stroke-width="1.7"/><line x1="651.07" y1="390.19" x2="627.49" y2="419.41" stroke="#271e1e" stroke-width="1.7"/><line x1="654.25" y1="393.25" x2="629.00" y2="420.24" stroke="#271e1e" stroke-width="1.7"/><line x1="656.94" y1="396.46" x2="630.27" y2="421.11" stroke="#271e1e" stroke-width="1.7"/><line x1="659.12" y1="399.79" x2="631.30" y2="422.01" stroke="#271e1e" stroke-width="1.7"/><line x1="660.77" y1="403.21" x2="632.08" y2="422.94" stroke="#271e1e" stroke-width="1.7"/><line x1="661.88" y1="406.70" x2="632.60" y2="423.88" stroke="#271e1e" stroke-width="1.7"/><line x1="662.43" y1="410.23" x2="632.87" y2="424.84" stroke="#271e1e" stroke-width="1.7"/></g>
<ellipse cx="589.5" cy="412" rx="73" ry="40.6" fill="none" stroke="#271e1e" stroke-width="2.4" />
<path d="M552.8 443.4 L553 450.5 C565 449 580 446 600 440 C612 436 622 428 630 418 L640 405 L638.4 398.6 Z" fill="white" stroke="#271e1e" stroke-width="1.4" stroke-linejoin="round" />
<path d="M544.8 441 C549 438 551 436.5 553 434.5 C556 431.5 558 428.5 560 426 C562.5 423 564.5 420.5 567 418.5 C569.5 416 572 414 575 412.5 C578 411 581 410 584 409.5 C588 408.5 592 408 596 407.5 C600 407 603.5 406 607 404.8 C611 403.5 614 402 617 400.5 C620.5 398.5 623 397 626 395 L631.2 392.2 L638.4 398.6 C635 400.5 632 402.5 629.6 404.2 C625 407 620 410 616.8 413 C614 415 612 418 610.4 420.2 C608 423 606 424.5 604 425.8 C600 428 596 429 592.8 429.8 C585 431.5 578 433 572 434.6 C565 437 558 440.5 552.8 443.4 Z" fill="white" stroke="#271e1e" stroke-width="1.9" stroke-linejoin="round" />
<path d="M544.3 445.7 C560 441 575 437 590 433.5 C600 431 606 429 609.5 426 C612 423 614 421 617 418.5 C624 414 630 409 640 404" fill="none" stroke="#271e1e" stroke-width="1.3" stroke-linejoin="round" />
<path d="M589 437.5 L589 432 M602 434 L602 429.5 M630 416 L630 407 M622 420 L622 411" fill="none" stroke="#271e1e" stroke-width="1.2" stroke-linejoin="round" />
<path d="M615 428 C615 420 624 418 624.5 424 L624.5 430" fill="none" stroke="#271e1e" stroke-width="1.4" stroke-linejoin="round" />
<path d="M572 448.5 C585 446 598 442 610 437 C618 433 625 428 632 419" fill="none" stroke="#271e1e" stroke-width="1.3" stroke-linejoin="round" />
<path d="M489.2 247.5 L489.2 312.9 L489.20 312.90 L489.34 315.78 L489.75 318.65 L490.44 321.50 L491.40 324.34 L492.63 327.14 L494.12 329.90 L495.88 332.61 L497.90 335.27 L500.16 337.87 L502.68 340.40 L505.43 342.86 L508.41 345.23 L511.62 347.51 L515.04 349.70 L518.67 351.79 L522.49 353.77 L526.49 355.64 L530.67 357.40 L535.01 359.03 L539.50 360.53 L544.13 361.91 L548.88 363.15 L553.75 364.25 L558.71 365.21 L563.76 366.03 L568.88 366.70 L574.06 367.22 L579.28 367.60 L584.54 367.82 L589.80 367.90 L595.06 367.82 L600.32 367.60 L605.54 367.22 L610.72 366.70 L615.84 366.03 L620.89 365.21 L625.85 364.25 L630.72 363.15 L635.47 361.91 L640.10 360.53 L644.59 359.03 L648.93 357.40 L653.11 355.64 L657.11 353.77 L660.93 351.79 L664.56 349.70 L667.98 347.51 L671.19 345.23 L674.17 342.86 L676.92 340.40 L679.44 337.87 L681.70 335.27 L683.72 332.61 L685.48 329.90 L686.97 327.14 L688.20 324.34 L689.16 321.50 L689.85 318.65 L690.26 315.78 L690.40 312.90 L690.4 247.5" fill="white" stroke="#271e1e" stroke-width="1.7" stroke-linejoin="round" />
<ellipse cx="589.8" cy="247.5" rx="100.6" ry="55" fill="none" stroke="#271e1e" stroke-width="1.7" />
<path d="M489.20 250.00 L489.34 252.77 L489.75 255.54 L490.44 258.29 L491.40 261.02 L492.63 263.72 L494.12 266.38 L495.88 268.99 L497.90 271.56 L500.16 274.06 L502.68 276.50 L505.43 278.87 L508.41 281.15 L511.62 283.35 L515.04 285.46 L518.67 287.48 L522.49 289.39 L526.49 291.19 L530.67 292.88 L535.01 294.45 L539.50 295.90 L544.13 297.22 L548.88 298.42 L553.75 299.48 L558.71 300.41 L563.76 301.19 L568.88 301.84 L574.06 302.35 L579.28 302.71 L584.54 302.93 L589.80 303.00 L595.06 302.93 L600.32 302.71 L605.54 302.35 L610.72 301.84 L615.84 301.19 L620.89 300.41 L625.85 299.48 L630.72 298.42 L635.47 297.22 L640.10 295.90 L644.59 294.45 L648.93 292.88 L653.11 291.19 L657.11 289.39 L660.93 287.48 L664.56 285.46 L667.98 283.35 L671.19 281.15 L674.17 278.87 L676.92 276.50 L679.44 274.06 L681.70 271.56 L683.72 268.99 L685.48 266.38 L686.97 263.72 L688.20 261.02 L689.16 258.29 L689.85 255.54 L690.26 252.77 L690.40 250.00" fill="none" stroke="#271e1e" stroke-width="1.3" stroke-linejoin="round" />
<ellipse cx="589.8" cy="247.5" rx="86.7" ry="46.4" fill="none" stroke="#271e1e" stroke-width="1.6" />
<defs><clipPath id="sc"><ellipse cx="589.8" cy="247.5" rx="86.7" ry="46.4"/></clipPath></defs>
<g clip-path="url(#sc)"><path d="M489.20 312.90 L489.34 310.02 L489.75 307.15 L490.44 304.30 L491.40 301.46 L492.63 298.66 L494.12 295.90 L495.88 293.19 L497.90 290.53 L500.16 287.93 L502.68 285.40 L505.43 282.94 L508.41 280.57 L511.62 278.29 L515.04 276.10 L518.67 274.01 L522.49 272.03 L526.49 270.16 L530.67 268.40 L535.01 266.77 L539.50 265.27 L544.13 263.89 L548.88 262.65 L553.75 261.55 L558.71 260.59 L563.76 259.77 L568.88 259.10 L574.06 258.58 L579.28 258.20 L584.54 257.98 L589.80 257.90 L595.06 257.98 L600.32 258.20 L605.54 258.58 L610.72 259.10 L615.84 259.77 L620.89 260.59 L625.85 261.55 L630.72 262.65 L635.47 263.89 L640.10 265.27 L644.59 266.77 L648.93 268.40 L653.11 270.16 L657.11 272.03 L660.93 274.01 L664.56 276.10 L667.98 278.29 L671.19 280.57 L674.17 282.94 L676.92 285.40 L679.44 287.93 L681.70 290.53 L683.72 293.19 L685.48 295.90 L686.97 298.66 L688.20 301.46 L689.16 304.30 L689.85 307.15 L690.26 310.02 L690.40 312.90" fill="none" stroke="#271e1e" stroke-width="1.4" stroke-linejoin="round" /></g>
<ellipse cx="523.3" cy="246.5" rx="7.2" ry="3.4" fill="none" stroke="#271e1e" stroke-width="1.5" transform="rotate(-62 523.3 246.5)"/>
<path d="M511.4 223.2 C507 230 504 238 504.6 246" fill="none" stroke="#271e1e" stroke-width="2.2" stroke-linejoin="round" />
<path d="M516.9 225.5 C511 231 507 236 505.5 242" fill="none" stroke="#271e1e" stroke-width="1.3" stroke-linejoin="round" />
<path d="M526 228.7 C517 233 510 239 505 245.5" fill="none" stroke="#271e1e" stroke-width="2.2" stroke-linejoin="round" />
<path d="M650 229 C662 233 670 240 673.7 247.4" fill="none" stroke="#271e1e" stroke-width="2.2" stroke-linejoin="round" />
<path d="M661.9 226.4 C666 230 670 235 672 240" fill="none" stroke="#271e1e" stroke-width="1.3" stroke-linejoin="round" />
<path d="M667 224.6 C671 230 674 236 675.5 243.8" fill="none" stroke="#271e1e" stroke-width="2.0" stroke-linejoin="round" />
<ellipse cx="660.5" cy="326.5" rx="5.8" ry="3.2" fill="none" stroke="#271e1e" stroke-width="1.4" transform="rotate(-60 660.5 326.5)"/>
<path d="M463.9 161 L464.48 175.84 L464.95 178.22 L465.59 180.60 L466.38 182.96 L467.33 185.30 L468.44 187.62 L469.70 189.92 L471.12 192.20 L472.69 194.45 L474.41 196.66 L476.27 198.84 L478.29 200.99 L480.44 203.09 L482.74 205.16 L485.17 207.17 L487.74 209.14 L490.44 211.06 L493.27 212.93 L496.22 214.74 L499.29 216.50 L502.47 218.20 L505.77 219.83 L509.18 221.40 L512.69 222.90 L516.30 224.34 L520.00 225.71 L523.79 227.00 L527.67 228.23 L531.62 229.38 L535.66 230.45 L539.76 231.44 L543.92 232.36 L548.15 233.20 L552.43 233.95 L556.75 234.63 L561.12 235.22 L565.53 235.72 L569.96 236.15 L574.43 236.49 L578.91 236.74 L583.41 236.91 L587.91 236.99 L592.42 236.99 L596.92 236.90 L601.42 236.72 L605.90 236.46 L610.36 236.12 L614.80 235.69 L619.20 235.18 L623.57 234.58 L627.89 233.90 L632.16 233.14 L636.38 232.30 L640.54 231.37 L644.64 230.37 L648.67 229.29 L652.62 228.14 L656.49 226.91 L660.28 225.61 L663.97 224.24 L667.57 222.80 L668.8 222 L668.8 214.5 L655 209 L665.6 205.9 C675 200 688 192 695.5 187.3 L697.6 194.7 L687 201.7 L687 211.3 L690.63 210.32 L691.44 209.74 L692.24 209.16 L693.02 208.57 L693.80 207.98 L694.56 207.39 L695.31 206.78 L696.05 206.18 L696.78 205.57 L697.49 204.96 L698.19 204.34 L698.88 203.72 L699.56 203.09 L700.22 202.47 L700.87 201.83 L701.51 201.20 L702.13 200.56 L702.75 199.91 L703.34 199.27 L703.93 198.62 L704.50 197.96 L705.06 197.30 L705.61 196.64 L706.14 195.98 L706.66 195.32 L707.17 194.65 L707.66 193.97 L708.14 193.30 L708.60 192.62 L709.05 191.94 L709.49 191.26 L709.91 190.57 L710.32 189.89 L710.72 189.20 L711.10 188.51 L711.47 187.81 L711.82 187.11 L712.16 186.42 L712.48 185.72 L712.80 185.01 L713.09 184.31 L713.37 183.61 L713.64 182.90 L713.90 182.19 L714.14 181.48 L714.36 180.77 L714.57 180.06 L714.77 179.34 L714.95 178.63 L715.12 177.91 L715.27 177.20 L715.41 176.48 L715.53 175.76 L715.64 175.04 L715.74 174.32 L715.82 173.60 L715.88 172.88 L715.93 172.16 L715.97 171.44 L715.99 170.72 L716.00 170.00 L716 150 L463.9 150 Z" fill="white" stroke="#271e1e" stroke-width="1.6" stroke-linejoin="round" />
<path d="M655 209 L655 217.7 L668.8 222 M655 209 L661 206.5" fill="none" stroke="#271e1e" stroke-width="1.4" stroke-linejoin="round" />
<path d="M679.5 199 L687 201.7 M679.5 199 L680 207.5 L687 211.3 M679.5 199 L695.5 187.3 L697.6 186.7 L697.6 194.7" fill="white" stroke="#271e1e" stroke-width="1.4" stroke-linejoin="round" />
<ellipse cx="677.9" cy="187.3" rx="7.8" ry="5" fill="none" stroke="#271e1e" stroke-width="1.4" transform="rotate(-60 677.9 187.3)"/>
<path d="M429.9 92.6 L429.9 105.6 L429.90 105.60 L430.12 110.39 L430.77 115.16 L431.86 119.91 L433.38 124.62 L435.33 129.28 L437.70 133.88 L440.48 138.39 L443.68 142.82 L447.27 147.14 L451.25 151.35 L455.61 155.43 L460.33 159.38 L465.41 163.18 L470.83 166.83 L476.57 170.30 L482.62 173.60 L488.97 176.71 L495.59 179.63 L502.46 182.34 L509.58 184.84 L516.91 187.13 L524.44 189.19 L532.14 191.02 L540.01 192.62 L548.01 193.98 L556.12 195.10 L564.32 195.97 L572.59 196.60 L580.91 196.97 L589.25 197.10 L597.59 196.97 L605.91 196.60 L614.18 195.97 L622.38 195.10 L630.49 193.98 L638.49 192.62 L646.36 191.02 L654.06 189.19 L661.59 187.13 L668.92 184.84 L676.04 182.34 L682.91 179.63 L689.53 176.71 L695.88 173.60 L701.93 170.30 L707.67 166.83 L713.09 163.18 L718.17 159.38 L722.89 155.43 L727.25 151.35 L731.23 147.14 L734.82 142.82 L738.02 138.39 L740.80 133.88 L743.17 129.28 L745.12 124.62 L746.64 119.91 L747.73 115.16 L748.38 110.39 L748.60 105.60 L748.6 92.6 Z" fill="white" stroke="#271e1e" stroke-width="2.1" stroke-linejoin="round" />
<ellipse cx="589.25" cy="92.6" rx="159.35" ry="91.5" fill="white" stroke="#271e1e" stroke-width="2.6" />
<ellipse cx="589.6" cy="92" rx="123.2" ry="70.8" fill="none" stroke="#271e1e" stroke-width="1.6" />
<ellipse cx="590.3" cy="93.4" rx="117.9" ry="67.4" fill="none" stroke="#271e1e" stroke-width="1.6" />
<ellipse cx="590.6" cy="94.8" rx="112.2" ry="63.9" fill="none" stroke="#271e1e" stroke-width="1.6" />
<ellipse cx="591" cy="95" rx="106" ry="60" fill="none" stroke="#271e1e" stroke-width="1.6" />
<ellipse cx="591" cy="96.5" rx="104" ry="57.8" fill="none" stroke="#271e1e" stroke-width="1.6" />
<path d="M491.4 110.7 L511.7 99" fill="none" stroke="#271e1e" stroke-width="1.4" stroke-linejoin="round" />
<path d="M517 113 C530 106 545 103 560 101 C570 99.5 580 98.9 587.7 98.9 C600 99 612 100 624 102 C636 104.5 646 108 656 112.7 C665 117 673 120 680.5 124.5" fill="none" stroke="#271e1e" stroke-width="1.5" stroke-linejoin="round" />
<ellipse cx="507.9" cy="87.6" rx="8.4" ry="4.7" fill="none" stroke="#271e1e" stroke-width="1.5" transform="rotate(-66 507.9 87.6)"/>
<path d="M510 100 L529.8 91 L531.4 91.5 L531.4 99 L517.3 105.5 L517.5 112.9 L510 109.1 Z" fill="white" stroke="#271e1e" stroke-width="1.5" stroke-linejoin="round" />
<path d="M510 100 L517 103.3 L531.4 97 M517 103.3 L517.3 112.9 M524 94.5 L530.5 97.5" fill="none" stroke="#271e1e" stroke-width="1.3" stroke-linejoin="round" />
<path d="M491.4 111 L499 116 L500 122.5 L494 119 Z" fill="white" stroke="#271e1e" stroke-width="1.3" stroke-linejoin="round" />
<g fill="#2676ba" stroke="none">
<rect x="5" y="4" width="216.5" height="2"/>
<rect x="7.9" y="20" width="2" height="97"/>
<rect x="7.9" y="206" width="2" height="100"/>
<polygon points="8.9,5.5 4.2,22 13.8,22"/>
<polygon points="8.9,322 4.2,305.5 13.8,305.5"/>
<rect x="5" y="321.6" width="216.5" height="2"/>
<rect x="5" y="371.1" width="232.6" height="2.3"/>
<rect x="7.8" y="388" width="2" height="42"/>
<rect x="7.8" y="520" width="2" height="47"/>
<polygon points="8.8,373 4.5,389.5 13.8,389.5"/>
<polygon points="8.8,581.5 4.4,565 13.8,565"/>
<rect x="5" y="582" width="232" height="1.9"/>
</g>
<text transform="translate(18.3,204.3) rotate(-90) scale(0.86,1)" font-family="Liberation Sans" font-weight="bold" font-size="25" fill="#2676ba" stroke="#2676ba" stroke-width="0.4">Φ</text>
<text transform="translate(18.3,186.3) rotate(-90) scale(0.93,1)" font-family="Liberation Sans" font-weight="bold" font-size="25" fill="#2676ba" stroke="#2676ba" stroke-width="0.4">86</text>
<text transform="translate(18.0,155.2) rotate(-90) scale(0.96,1)" font-family="Liberation Sans" font-weight="bold" font-size="22.5" fill="#2676ba" stroke="#2676ba" stroke-width="0.4">mm</text>
<text transform="translate(18.1,511.2) rotate(-90) scale(0.95,1)" font-family="Liberation Sans" font-weight="bold" font-size="23.5" fill="#2676ba" stroke="#2676ba" stroke-width="0.4">56</text>
<text transform="translate(17.9,481.0) rotate(-90) scale(0.96,1)" font-family="Liberation Sans" font-weight="bold" font-size="22.5" fill="#2676ba" stroke="#2676ba" stroke-width="0.4">mm</text>
</svg></body></html>
